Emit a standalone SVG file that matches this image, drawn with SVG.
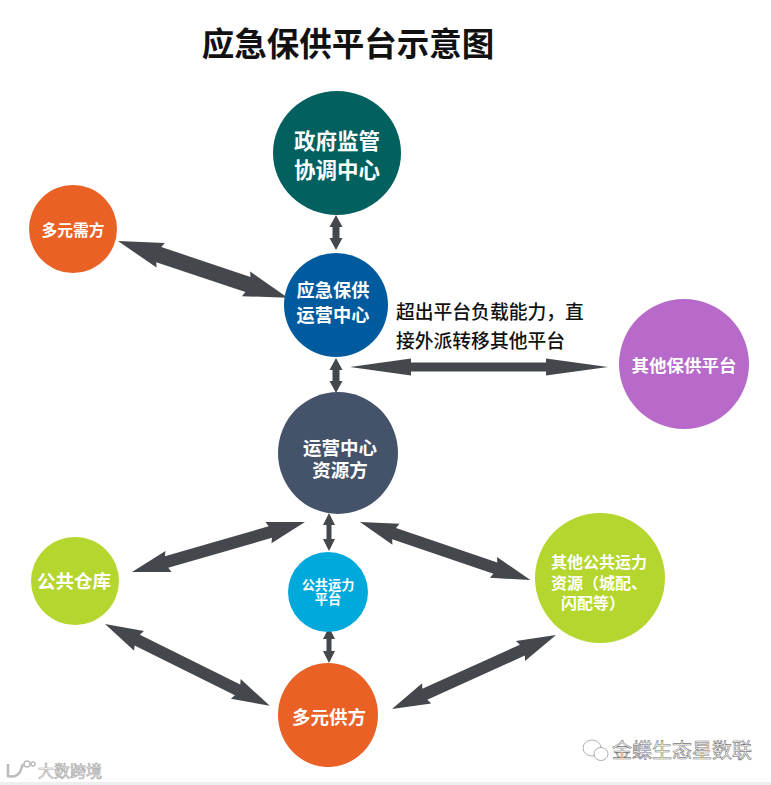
<svg xmlns="http://www.w3.org/2000/svg" width="771" height="785" viewBox="0 0 771 785">
<style>
text{font-family:"Noto Sans CJK SC","Liberation Sans",sans-serif;text-anchor:middle}
.w{fill:#fff;font-weight:700}
.a{fill:#44474c}
.k{fill:#111;font-size:18.8px;font-weight:500;text-anchor:start}
.wm{fill:#fff;stroke:#777;stroke-width:.6}
</style>
<rect width="771" height="785" fill="#fff"/>
<rect y="782" width="771" height="3" fill="#eeeeee"/>
<text x="348" y="56" font-size="32.5" font-weight="700" fill="#111">应急保供平台示意图</text>
<g id="connectors">
<polygon class="a" transform="translate(118,241) rotate(18.5)" points="0,0 45,-13 43,-8 137,-8 135,-13 179,0 135,13 137,8 43,8 45,13"/>
<polygon class="a" transform="translate(336,215) rotate(90)" points="0,0 12,-6.5 12,-3.5 23,-3.5 23,-6.5 35,0 23,6.5 23,3.5 12,3.5 12,6.5"/>
<polygon class="a" transform="translate(336,358) rotate(90)" points="0,0 12,-6.5 12,-3.5 23,-3.5 23,-6.5 35,0 23,6.5 23,3.5 12,3.5 12,6.5"/>
<polygon class="a" transform="translate(350,367)" points="0,0 61,-8.5 61,-4.5 196,-4.5 196,-8.5 258,0 196,8.5 196,4.5 61,4.5 61,8.5"/>
<polygon class="a" transform="translate(132,572) rotate(-16.1)" points="0,0 38,-11 36,-6 144,-6 142,-11 180,0 142,11 144,6 36,6 38,11"/>
<polygon class="a" transform="translate(329,513) rotate(90)" points="0,0 12,-6 12,-2.5 26,-2.5 26,-6 38,0 26,6 26,2.5 12,2.5 12,6"/>
<polygon class="a" transform="translate(360,522) rotate(18.8)" points="0,0 38,-11 36,-6 143,-6 141,-11 180,0 141,11 143,6 36,6 38,11"/>
<polygon class="a" transform="translate(329,627) rotate(90)" points="0,0 12,-6 12,-2.5 24,-2.5 24,-6 36,0 24,6 24,2.5 12,2.5 12,6"/>
<polygon class="a" transform="translate(105,624) rotate(26.4)" points="0,0 38,-11 36,-6 148,-6 146,-11 184,0 146,11 148,6 36,6 38,11"/>
<polygon class="a" transform="translate(392,709) rotate(-24.3)" points="0,0 38,-11 36,-6 143,-6 141,-11 180,0 141,11 143,6 36,6 38,11"/>
</g>
<g id="n-gov"><ellipse cx="337" cy="153" rx="64" ry="62" fill="#02605f"/><text class="w" font-size="21.5"><tspan x="337" y="149">政府监管</tspan><tspan x="337" y="178">协调中心</tspan></text></g>
<g id="n-demand"><circle cx="73" cy="229" r="44" fill="#e96125"/><text class="w" x="73" y="236" font-size="15.8">多元需方</text></g>
<g id="n-ops"><circle cx="336" cy="305" r="52" fill="#005a9e"/><text class="w" font-size="18.2"><tspan x="333" y="297">应急保供</tspan><tspan x="333" y="322">运营中心</tspan></text></g>
<g id="n-note"><text class="k"><tspan x="396" y="319">超出平台负载能力，直</tspan><tspan x="396" y="348">接外派转移其他平台</tspan></text></g>
<g id="n-other"><circle cx="684" cy="364" r="65" fill="#b76ac9"/><text class="w" x="684" y="372" font-size="17.5">其他保供平台</text></g>
<g id="n-res"><ellipse cx="338" cy="453" rx="60" ry="61" fill="#445369"/><text class="w" font-size="18.5"><tspan x="340" y="455">运营中心</tspan><tspan x="340" y="477">资源方</tspan></text></g>
<g id="n-store"><circle cx="75" cy="581" r="44" fill="#b5d62e"/><text class="w" x="74" y="588" font-size="18.5">公共仓库</text></g>
<g id="n-trans"><circle cx="328" cy="592" r="40" fill="#00a9dc"/><text class="w" font-size="13.2"><tspan x="328" y="590">公共运力</tspan><tspan x="328" y="604">平台</tspan></text></g>
<g id="n-public"><circle cx="600" cy="578" r="65" fill="#b5d62e"/><text class="w" font-size="16"><tspan x="599" y="568">其他公共运力</tspan><tspan x="599" y="589">资源（城配、</tspan><tspan x="593" y="609">闪配等）</tspan></text></g>
<g id="n-supply"><ellipse cx="328" cy="715" rx="50" ry="52" fill="#e96125"/><text class="w" x="329" y="724" font-size="18.5">多元供方</text></g>
<g id="wm-right"><ellipse cx="592" cy="748" rx="9" ry="8" class="wm"/><ellipse cx="601" cy="754" rx="7" ry="6.5" class="wm"/><text class="wm" x="682" y="758" font-size="20">金蝶生态星数联</text></g>
<g id="wm-left"><path d="M8 764v12q8 2 12-4l3-8" fill="none" stroke="#bbb" stroke-width="2.5"/><circle cx="27" cy="764" r="3" fill="none" stroke="#bbb" stroke-width="1.5"/><circle cx="33" cy="764" r="2" fill="none" stroke="#bbb" stroke-width="1.5"/><text x="70" y="777" font-size="16" fill="#fff" stroke="#aaa" stroke-width=".7">大数跨境</text></g>
</svg>
